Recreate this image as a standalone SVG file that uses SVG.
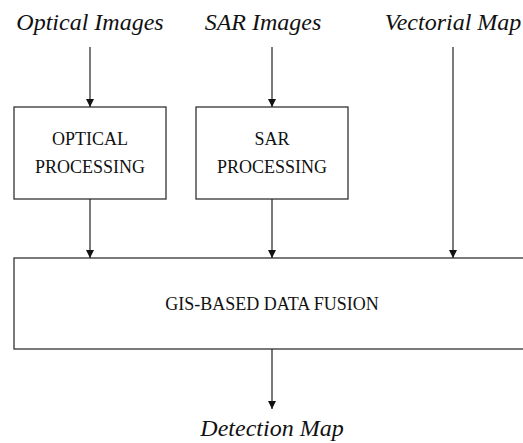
<svg xmlns="http://www.w3.org/2000/svg" width="523" height="443" viewBox="0 0 523 443">
<style>
.box{fill:#fff;stroke:#333;stroke-width:1.3}
.edge{stroke:#222;stroke-width:1.2;fill:none;marker-end:url(#ah)}
</style>
<defs>
<marker id="ah" viewBox="0 0 8 10" refX="8" refY="5" markerWidth="8" markerHeight="10" markerUnits="userSpaceOnUse" orient="auto">
<path d="M0,1 L8,5 L0,9 Z" fill="#111"/>
</marker>
</defs>
<g fill="#111" text-anchor="middle">
<g id="in-optical"><text x="90" y="30" style="font-family:'Liberation Serif',serif;font-size:24px;font-style:italic">Optical Images</text></g>
<g id="in-sar"><text x="263" y="30" style="font-family:'Liberation Serif',serif;font-size:24px;font-style:italic">SAR Images</text></g>
<g id="in-vector"><text x="453" y="30" style="font-family:'Liberation Serif',serif;font-size:24px;font-style:italic">Vectorial Map</text></g>
<g id="optical-processing">
<rect class="box" x="14" y="107" width="152" height="92"/>
<text x="90" y="145" style="font-family:'Liberation Serif',serif;font-size:18px">OPTICAL</text>
<text x="90" y="173" style="font-family:'Liberation Serif',serif;font-size:18px">PROCESSING</text>
</g>
<g id="sar-processing">
<rect class="box" x="196" y="107" width="152" height="92"/>
<text x="272" y="145" style="font-family:'Liberation Serif',serif;font-size:18px">SAR</text>
<text x="272" y="173" style="font-family:'Liberation Serif',serif;font-size:18px">PROCESSING</text>
</g>
<g id="data-fusion">
<rect class="box" x="14" y="258" width="530" height="91"/>
<text x="272" y="310" style="font-family:'Liberation Serif',serif;font-size:18px">GIS-BASED DATA FUSION</text>
</g>
<g id="out-detection"><text x="272" y="436" style="font-family:'Liberation Serif',serif;font-size:24px;font-style:italic">Detection Map</text></g>
</g>
<g id="connectors">
<line class="edge" x1="90" y1="47" x2="90" y2="107"/>
<line class="edge" x1="272" y1="47" x2="272" y2="107"/>
<line class="edge" x1="453" y1="47" x2="453" y2="258"/>
<line class="edge" x1="90" y1="199" x2="90" y2="258"/>
<line class="edge" x1="272" y1="199" x2="272" y2="258"/>
<line class="edge" x1="272" y1="349" x2="272" y2="409"/>
</g>
</svg>
